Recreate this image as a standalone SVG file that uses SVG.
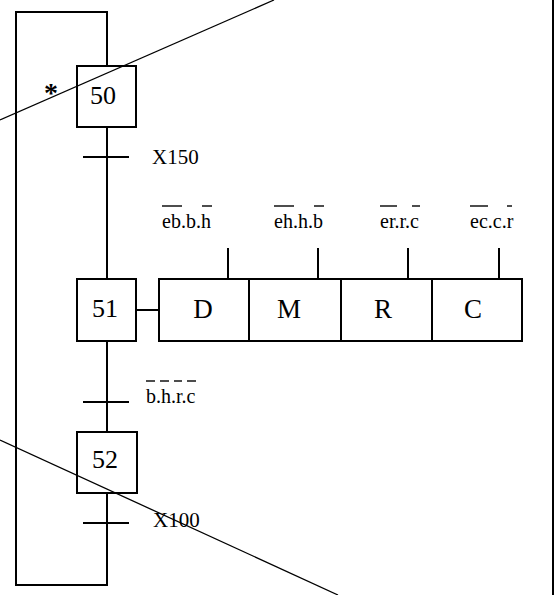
<svg xmlns="http://www.w3.org/2000/svg" width="557" height="595" viewBox="0 0 557 595">
<style>
.ln{stroke:#000;stroke-width:2;fill:none}
.thin{stroke:#000;stroke-width:1.3;fill:none}
.box{stroke:#000;stroke-width:2;fill:#fff}
.t{font-family:"Liberation Serif","Times New Roman",serif;fill:#000}
.n{font-size:26px;text-anchor:middle}
.a{font-size:27px;text-anchor:middle}
.lab{font-size:21px}
.cond{font-size:20px}
.ov{stroke:#000;stroke-width:1.4}
</style>
<rect width="557" height="595" fill="#fff"/>
<g id="connectors">
<polyline class="ln" points="107,66 107,12 16,12 16,585 107,585 107,493"/>
<line class="ln" x1="107" y1="127" x2="107" y2="279"/>
<line class="ln" x1="107" y1="341" x2="107" y2="432"/>
<line class="ln" x1="83" y1="157" x2="129" y2="157"/>
<line class="ln" x1="83" y1="402" x2="129" y2="402"/>
<line class="ln" x1="83" y1="523" x2="129" y2="523"/>
<line class="ln" x1="136" y1="310" x2="159" y2="310"/>
<line class="ln" x1="228" y1="248" x2="228" y2="279"/>
<line class="ln" x1="318" y1="248" x2="318" y2="279"/>
<line class="ln" x1="408" y1="248" x2="408" y2="279"/>
<line class="ln" x1="499" y1="248" x2="499" y2="279"/>
<line class="ln" x1="553" y1="0" x2="553" y2="595"/>
</g>
<g id="step50">
<rect class="box" x="77" y="66" width="59" height="61"/>
<text class="t n" x="103" y="104">50</text>
<text class="t" x="51" y="102" font-size="28" text-anchor="middle" font-weight="bold">*</text>
</g>
<g id="t150">
<text class="t lab" x="152" y="164">X150</text>
</g>
<g id="step51">
<rect class="box" x="77" y="279" width="59" height="62"/>
<text class="t n" x="105" y="317">51</text>
</g>
<g id="actions">
<rect class="box" x="159" y="279" width="90" height="62"/>
<rect class="box" x="249" y="279" width="92" height="62"/>
<rect class="box" x="341" y="279" width="91" height="62"/>
<rect class="box" x="432" y="279" width="90" height="62"/>
<text class="t a" x="203" y="318">D</text>
<text class="t a" x="289" y="318">M</text>
<text class="t a" x="383" y="318">R</text>
<text class="t a" x="473" y="318">C</text>
</g>
<g id="conds">
<text class="t cond" x="162" y="228">eb.b.h</text>
<line class="ov" x1="162" y1="206" x2="182" y2="206"/>
<line class="ov" x1="202" y1="206" x2="212" y2="206"/>
<text class="t cond" x="274" y="228">eh.h.b</text>
<line class="ov" x1="274" y1="206" x2="294" y2="206"/>
<line class="ov" x1="314" y1="206" x2="324" y2="206"/>
<text class="t cond" x="380" y="228">er.r.c</text>
<line class="ov" x1="380" y1="206" x2="397" y2="206"/>
<line class="ov" x1="412" y1="206" x2="420" y2="206"/>
<text class="t cond" x="470" y="228">ec.c.r</text>
<line class="ov" x1="470" y1="206" x2="488" y2="206"/>
<line class="ov" x1="507" y1="206" x2="512" y2="206"/>
</g>
<g id="t51">
<text class="t cond" x="146" y="403">b.h.r.c</text>
<line class="ov" x1="146" y1="381" x2="155" y2="381"/>
<line class="ov" x1="160" y1="381" x2="169" y2="381"/>
<line class="ov" x1="174" y1="381" x2="182" y2="381"/>
<line class="ov" x1="187" y1="381" x2="196" y2="381"/>
</g>
<g id="step52">
<rect class="box" x="77" y="432" width="60" height="61"/>
<text class="t n" x="105" y="468">52</text>
</g>
<g id="t100">
<text class="t lab" x="153" y="527">X100</text>
</g>
<g id="crossout">
<line class="thin" x1="0" y1="120" x2="274" y2="0"/>
<line class="thin" x1="0" y1="440" x2="338" y2="595"/>
</g>
</svg>
